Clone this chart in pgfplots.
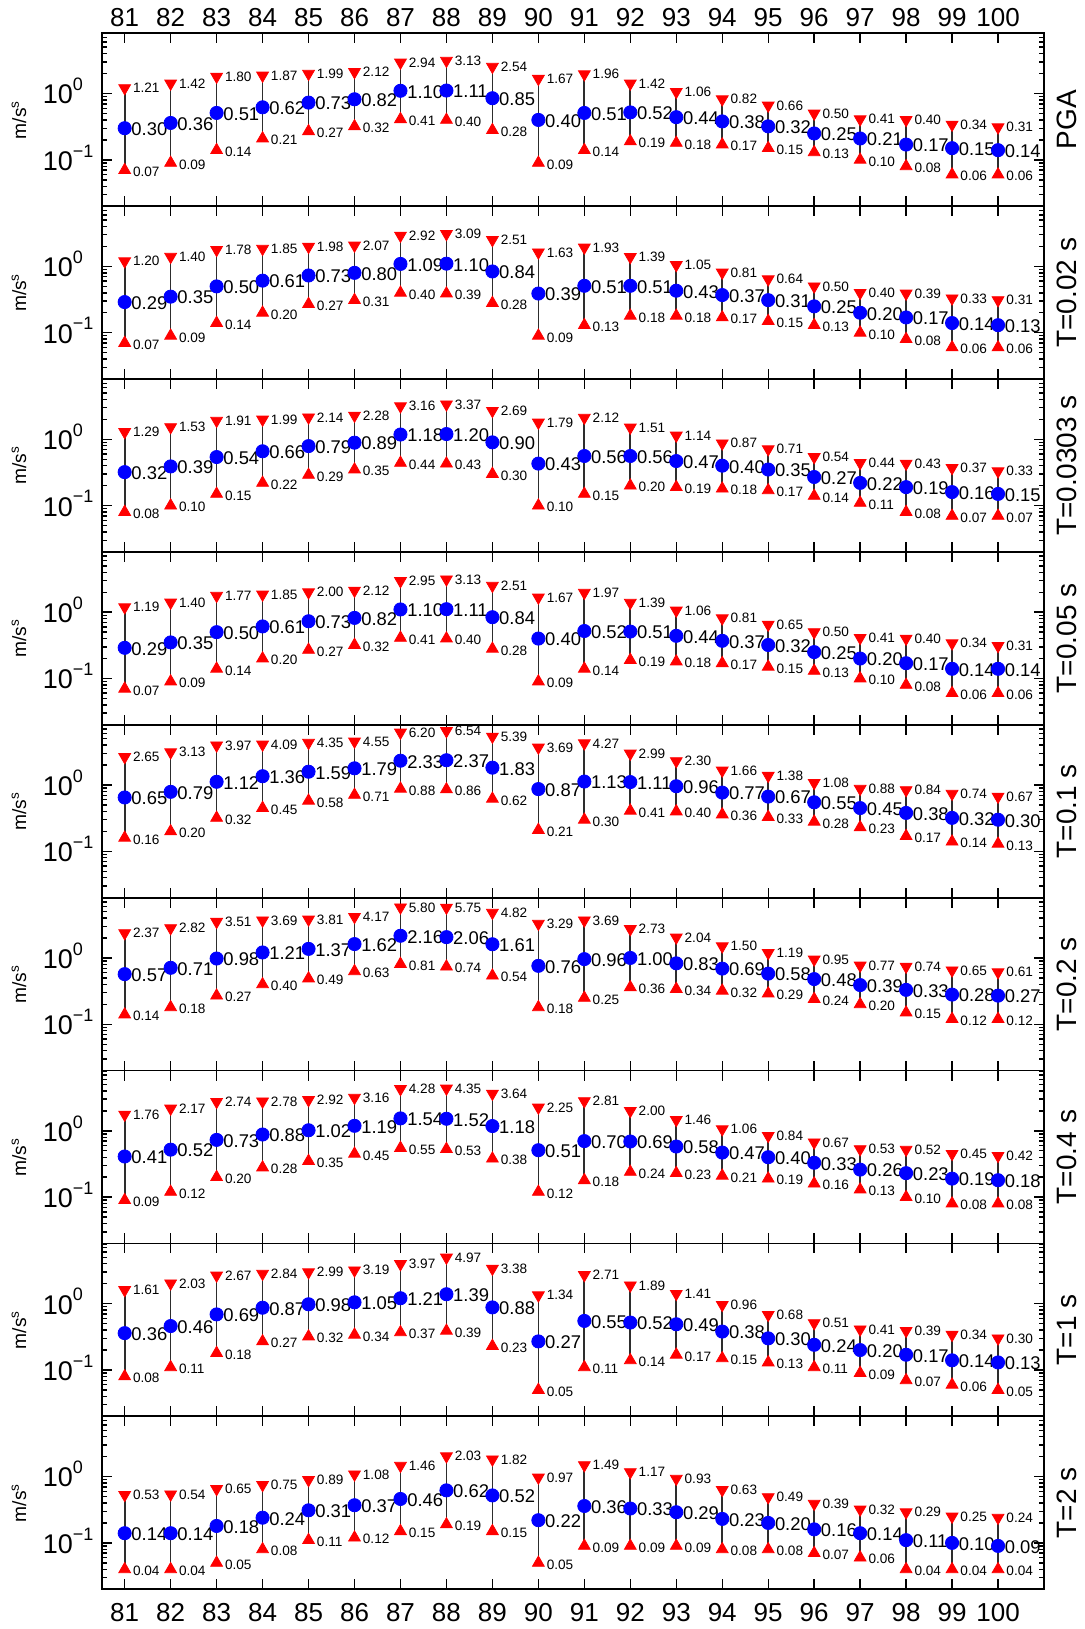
\documentclass[border=0pt]{standalone}
\usepackage{fontspec}
\setmainfont{Liberation Sans}
\usepackage{pgfplots}
\usepackage{pgfplotstable}
\pgfplotsset{compat=1.18}
\definecolor{mred}{RGB}{255,0,0}
\definecolor{mblue}{RGB}{0,0,255}
\definecolor{barc}{RGB}{45,45,45}

\pgfplotstableread{
x lo med hi
81 0.07 0.30 1.21
82 0.09 0.36 1.42
83 0.14 0.51 1.80
84 0.21 0.62 1.87
85 0.27 0.73 1.99
86 0.32 0.82 2.12
87 0.41 1.10 2.94
88 0.40 1.11 3.13
89 0.28 0.85 2.54
90 0.09 0.40 1.67
91 0.14 0.51 1.96
92 0.19 0.52 1.42
93 0.18 0.44 1.06
94 0.17 0.38 0.82
95 0.15 0.32 0.66
96 0.13 0.25 0.50
97 0.10 0.21 0.41
98 0.08 0.17 0.40
99 0.06 0.15 0.34
100 0.06 0.14 0.31
}\tA

\pgfplotstableread{
x lo med hi
81 0.07 0.29 1.20
82 0.09 0.35 1.40
83 0.14 0.50 1.78
84 0.20 0.61 1.85
85 0.27 0.73 1.98
86 0.31 0.80 2.07
87 0.40 1.09 2.92
88 0.39 1.10 3.09
89 0.28 0.84 2.51
90 0.09 0.39 1.63
91 0.13 0.51 1.93
92 0.18 0.51 1.39
93 0.18 0.43 1.05
94 0.17 0.37 0.81
95 0.15 0.31 0.64
96 0.13 0.25 0.50
97 0.10 0.20 0.40
98 0.08 0.17 0.39
99 0.06 0.14 0.33
100 0.06 0.13 0.31
}\tB

\pgfplotstableread{
x lo med hi
81 0.08 0.32 1.29
82 0.10 0.39 1.53
83 0.15 0.54 1.91
84 0.22 0.66 1.99
85 0.29 0.79 2.14
86 0.35 0.89 2.28
87 0.44 1.18 3.16
88 0.43 1.20 3.37
89 0.30 0.90 2.69
90 0.10 0.43 1.79
91 0.15 0.56 2.12
92 0.20 0.56 1.51
93 0.19 0.47 1.14
94 0.18 0.40 0.87
95 0.17 0.35 0.71
96 0.14 0.27 0.54
97 0.11 0.22 0.44
98 0.08 0.19 0.43
99 0.07 0.16 0.37
100 0.07 0.15 0.33
}\tC

\pgfplotstableread{
x lo med hi
81 0.07 0.29 1.19
82 0.09 0.35 1.40
83 0.14 0.50 1.77
84 0.20 0.61 1.85
85 0.27 0.73 2.00
86 0.32 0.82 2.12
87 0.41 1.10 2.95
88 0.40 1.11 3.13
89 0.28 0.84 2.51
90 0.09 0.40 1.67
91 0.14 0.52 1.97
92 0.19 0.51 1.39
93 0.18 0.44 1.06
94 0.17 0.37 0.81
95 0.15 0.32 0.65
96 0.13 0.25 0.50
97 0.10 0.20 0.41
98 0.08 0.17 0.40
99 0.06 0.14 0.34
100 0.06 0.14 0.31
}\tD

\pgfplotstableread{
x lo med hi
81 0.16 0.65 2.65
82 0.20 0.79 3.13
83 0.32 1.12 3.97
84 0.45 1.36 4.09
85 0.58 1.59 4.35
86 0.71 1.79 4.55
87 0.88 2.33 6.20
88 0.86 2.37 6.54
89 0.62 1.83 5.39
90 0.21 0.87 3.69
91 0.30 1.13 4.27
92 0.41 1.11 2.99
93 0.40 0.96 2.30
94 0.36 0.77 1.66
95 0.33 0.67 1.38
96 0.28 0.55 1.08
97 0.23 0.45 0.88
98 0.17 0.38 0.84
99 0.14 0.32 0.74
100 0.13 0.30 0.67
}\tE

\pgfplotstableread{
x lo med hi
81 0.14 0.57 2.37
82 0.18 0.71 2.82
83 0.27 0.98 3.51
84 0.40 1.21 3.69
85 0.49 1.37 3.81
86 0.63 1.62 4.17
87 0.81 2.16 5.80
88 0.74 2.06 5.75
89 0.54 1.61 4.82
90 0.18 0.76 3.29
91 0.25 0.96 3.69
92 0.36 1.00 2.73
93 0.34 0.83 2.04
94 0.32 0.69 1.50
95 0.29 0.58 1.19
96 0.24 0.48 0.95
97 0.20 0.39 0.77
98 0.15 0.33 0.74
99 0.12 0.28 0.65
100 0.12 0.27 0.61
}\tF

\pgfplotstableread{
x lo med hi
81 0.09 0.41 1.76
82 0.12 0.52 2.17
83 0.20 0.73 2.74
84 0.28 0.88 2.78
85 0.35 1.02 2.92
86 0.45 1.19 3.16
87 0.55 1.54 4.28
88 0.53 1.52 4.35
89 0.38 1.18 3.64
90 0.12 0.51 2.25
91 0.18 0.70 2.81
92 0.24 0.69 2.00
93 0.23 0.58 1.46
94 0.21 0.47 1.06
95 0.19 0.40 0.84
96 0.16 0.33 0.67
97 0.13 0.26 0.53
98 0.10 0.23 0.52
99 0.08 0.19 0.45
100 0.08 0.18 0.42
}\tG

\pgfplotstableread{
x lo med hi
81 0.08 0.36 1.61
82 0.11 0.46 2.03
83 0.18 0.69 2.67
84 0.27 0.87 2.84
85 0.32 0.98 2.99
86 0.34 1.05 3.19
87 0.37 1.21 3.97
88 0.39 1.39 4.97
89 0.23 0.88 3.38
90 0.05 0.27 1.34
91 0.11 0.55 2.71
92 0.14 0.52 1.89
93 0.17 0.49 1.41
94 0.15 0.38 0.96
95 0.13 0.30 0.68
96 0.11 0.24 0.51
97 0.09 0.20 0.41
98 0.07 0.17 0.39
99 0.06 0.14 0.34
100 0.05 0.13 0.30
}\tH

\pgfplotstableread{
x lo med hi
81 0.04 0.14 0.53
82 0.04 0.14 0.54
83 0.05 0.18 0.65
84 0.08 0.24 0.75
85 0.11 0.31 0.89
86 0.12 0.37 1.08
87 0.15 0.46 1.46
88 0.19 0.62 2.03
89 0.15 0.52 1.82
90 0.05 0.22 0.97
91 0.09 0.36 1.49
92 0.09 0.33 1.17
93 0.09 0.29 0.93
94 0.08 0.23 0.63
95 0.08 0.20 0.49
96 0.07 0.16 0.39
97 0.06 0.14 0.32
98 0.04 0.11 0.29
99 0.04 0.10 0.25
100 0.04 0.09 0.24
}\tI

\newcommand{\expo}[1]{\raisebox{6.6pt}{\fontsize{9}{10}\selectfont #1}}

\newcommand{\panel}[4]{%
\begin{semilogyaxis}[
    width=471.15pt, height=86.44pt, scale only axis,
    at={(0pt,#1)}, anchor=north west, clip=false,
    xmin=80.5, xmax=101, ymin=0.02, ymax=8.1,
    xtick={81,82,...,100},
    ytick={0.1,1},
    yticklabels={10\expo{−1},10\expo{0}},
    minor ytick={0.02,0.03,0.04,0.05,0.06,0.07,0.08,0.09,0.2,0.3,0.4,0.5,0.6,0.7,0.8,0.9,2,3,4,5,6,7,8},
    xtick pos=both, ytick pos=both, tick align=inside,
    major tick length=5pt, minor tick length=2.5pt,
    axis line style={line width=0.9pt},
    every tick/.style={black, line width=0.7pt},
    /pgf/number format/assume math mode=true,
    xticklabel style={font=\fontsize{13}{15}\selectfont, inner sep=0pt},
    yticklabel style={font=\fontsize{13.5}{15}\selectfont, anchor=base west, inner sep=0pt, xshift=-29.6pt, yshift=-5.2pt},
    #4]
  \addplot[only marks, mark=none, forget plot,
    error bars/.cd, y dir=both, y explicit, error mark=none,
    error bar style={draw=barc, line width=0.85pt, solid}]
    table[x=x, y=med, y error plus expr=\thisrow{hi}-\thisrow{med}, y error minus expr=\thisrow{med}-\thisrow{lo}] {#2};
  \addplot[only marks, color=mred, mark=triangle*, mark size=3.4pt,
    mark options={rotate=180, fill=mred, draw=mred},
    point meta=explicit symbolic, nodes near coords,
    nodes near coords style={anchor=west, font=\fontsize{6.8}{8}\selectfont, text=black, inner sep=0pt, xshift=4pt}]
    table[x=x, y=hi, meta=hi] {#2};
  \addplot[only marks, color=mred, mark=triangle*, mark size=3.4pt,
    mark options={fill=mred, draw=mred},
    point meta=explicit symbolic, nodes near coords,
    nodes near coords style={anchor=west, font=\fontsize{6.8}{8}\selectfont, text=black, inner sep=0pt, xshift=4pt, yshift=-0.8pt}]
    table[x=x, y=lo, meta=lo] {#2};
  \addplot[only marks, color=mblue, mark=*, mark size=3.3pt,
    mark options={fill=mblue, draw=mblue},
    point meta=explicit symbolic, nodes near coords,
    nodes near coords style={anchor=west, font=\fontsize{9.2}{11}\selectfont, text=black, inner sep=0pt, xshift=3.2pt, yshift=-0.5pt}]
    table[x=x, y=med, meta=med] {#2};
  \node[rotate=90, font=\fontsize{9.6}{12}\selectfont] at ([xshift=-41.3pt]rel axis cs:0,0.5) {m/s\textsuperscript{s}};
  \node[rotate=90, font=\fontsize{14}{16}\selectfont] at ([xshift=11.25pt]rel axis cs:1,0.5) {#3};
\end{semilogyaxis}}

\begin{document}
\begin{tikzpicture}
\panel{0pt}{\tA}{PGA}{xticklabel pos=upper, xticklabel style={anchor=south, yshift=3pt}}
\panel{-86.44pt}{\tB}{T=0.02 s}{xticklabels={}}
\panel{-172.88pt}{\tC}{T=0.0303 s}{xticklabels={}}
\panel{-259.32pt}{\tD}{T=0.05 s}{xticklabels={}}
\panel{-345.76pt}{\tE}{T=0.1 s}{xticklabels={}}
\panel{-432.2pt}{\tF}{T=0.2 s}{xticklabels={}}
\panel{-518.64pt}{\tG}{T=0.4 s}{xticklabels={}}
\panel{-605.08pt}{\tH}{T=1 s}{xticklabels={}}
\panel{-691.52pt}{\tI}{T=2 s}{xticklabel pos=lower, xticklabel style={anchor=north, yshift=-7pt}}
\pgfresetboundingbox
\path[use as bounding box] (-50.85pt,16.65pt) rectangle (491.65pt,-797.85pt);
\end{tikzpicture}
\end{document}
